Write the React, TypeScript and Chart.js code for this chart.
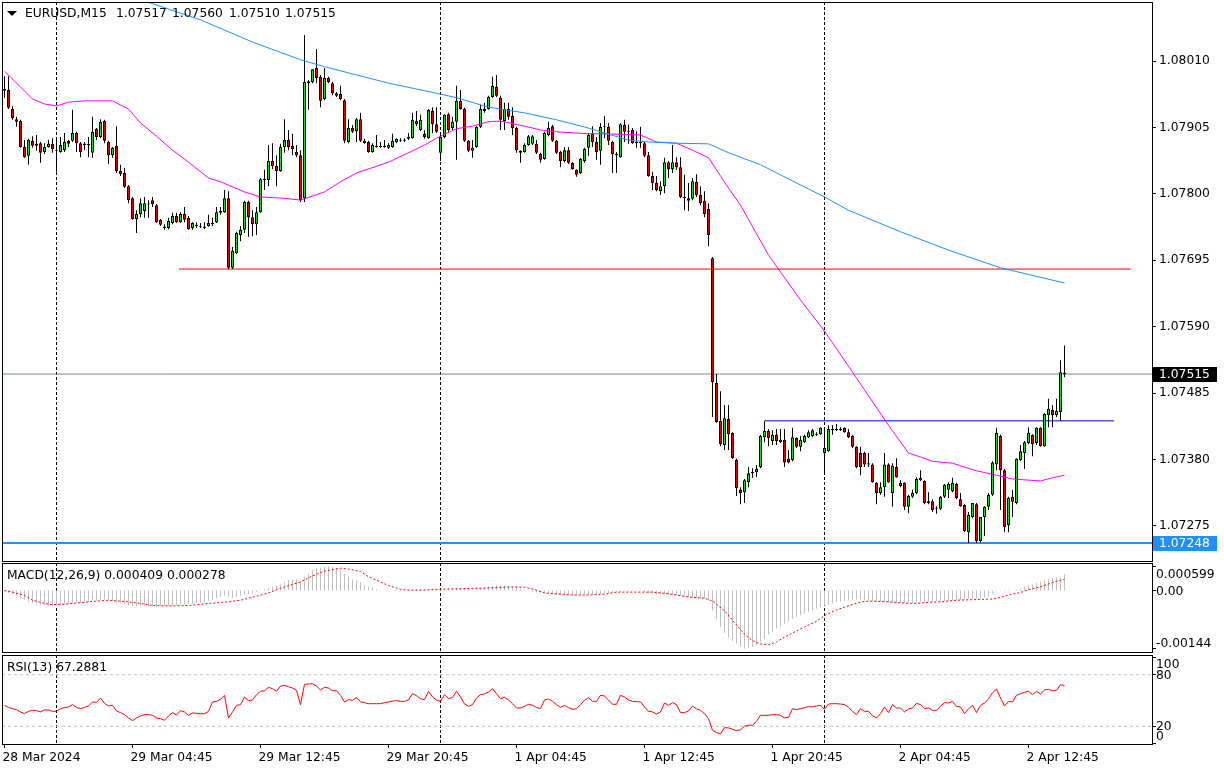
import React, { useEffect, useRef } from 'react';
import { Chart, registerables } from 'chart.js';

Chart.register(...registerables);

// ---------------- DATA ----------------
const symbolText = 'EURUSD,M15';

const opens = [
  1.07963,1.07964,1.07934,1.07918,1.07915,1.07874,1.07860,1.07884,1.07876,1.07880,
  1.07866,1.07874,1.07879,1.07869,1.07866,1.07869,1.07884,1.07884,1.07896,1.07880,
  1.07879,1.07877,1.07865,1.07903,1.07890,1.07915,1.07882,1.07861,1.07876,1.07836,
  1.07833,1.07812,1.07793,1.07760,1.07768,1.07773,1.07784,1.07790,1.07782,1.07759,
  1.07748,1.07746,1.07754,1.07765,1.07755,1.07768,1.07762,1.07746,1.07751,1.07749,
  1.07748,1.07749,1.07752,1.07755,1.07770,1.07771,1.07793,1.07683,1.07706,1.07735,
  1.07743,1.07787,1.07763,1.07752,1.07771,1.07823,1.07822,1.07852,1.07844,1.07836,
  1.07874,1.07885,1.07876,1.07866,1.07861,1.07793,1.07975,1.07977,1.07999,1.07985,
  1.07950,1.07983,1.07975,1.07959,1.07958,1.07948,1.07882,1.07904,1.07899,1.07918,
  1.07880,1.07882,1.07866,1.07876,1.07874,1.07876,1.07873,1.07874,1.07882,1.07885,
  1.07884,1.07887,1.07888,1.07915,1.07901,1.07895,1.07888,1.07931,1.07910,1.07865,
  1.07890,1.07926,1.07904,1.07914,1.07947,1.07934,1.07884,1.07868,1.07874,1.07906,
  1.07931,1.07934,1.07953,1.07969,1.07952,1.07915,1.07934,1.07923,1.07904,1.07868,
  1.07866,1.07877,1.07879,1.07879,1.07863,1.07855,1.07893,1.07907,1.07884,1.07866,
  1.07852,1.07869,1.07849,1.07838,1.07833,1.07852,1.07873,1.07895,1.07882,1.07868,
  1.07906,1.07906,1.07882,1.07863,1.07858,1.07909,1.07899,1.07901,1.07882,1.07880,
  1.07880,1.07861,1.07828,1.07817,1.07804,1.07812,1.07850,1.07839,1.07850,1.07842,
  1.07795,1.07793,1.07792,1.07819,1.07798,1.07789,1.07776,1.07698,1.07501,1.07441,
  1.07403,1.07444,1.07422,1.07379,1.07332,1.07328,1.07344,1.07358,1.07360,1.07368,
  1.07415,1.07425,1.07409,1.07419,1.07407,1.07411,1.07381,1.07379,1.07414,1.07400,
  1.07407,1.07415,1.07417,1.07420,1.07420,1.07390,1.07393,1.07426,1.07428,1.07426,
  1.07430,1.07423,1.07417,1.07400,1.07390,1.07390,1.07374,1.07372,1.07343,1.07327,
  1.07336,1.07372,1.07327,1.07368,1.07338,1.07343,1.07305,1.07321,1.07327,1.07347,
  1.07346,1.07311,1.07314,1.07302,1.07302,1.07321,1.07332,1.07330,1.07341,1.07317,
  1.07308,1.07265,1.07289,1.07309,1.07251,1.07289,1.07305,1.07324,1.07372,1.07417,
  1.07363,1.07276,1.07321,1.07311,1.07379,1.07390,1.07406,1.07419,1.07406,1.07430,
  1.07401,1.07450,1.07458,1.07450,1.07455,1.07517
];

const highs = [
  1.07986,1.07986,1.07939,1.07922,1.07917,1.07885,1.07887,1.07891,1.07893,1.07882,
  1.07880,1.07885,1.07888,1.07890,1.07890,1.07896,1.07885,1.07933,1.07898,1.07882,
  1.07882,1.07890,1.07922,1.07904,1.07918,1.07917,1.07884,1.07874,1.07907,1.07846,
  1.07841,1.07814,1.07795,1.07774,1.07793,1.07795,1.07790,1.07795,1.07784,1.07760,
  1.07752,1.07762,1.07770,1.07770,1.07771,1.07779,1.07765,1.07755,1.07755,1.07754,
  1.07755,1.07767,1.07762,1.07779,1.07779,1.07806,1.07804,1.07716,1.07740,1.07749,
  1.07789,1.07789,1.07774,1.07779,1.07825,1.07838,1.07877,1.07880,1.07861,1.07879,
  1.07918,1.07901,1.07895,1.07877,1.07869,1.08051,1.07980,1.07997,1.08029,1.07988,
  1.07999,1.07985,1.07977,1.07961,1.07971,1.07950,1.07918,1.07909,1.07920,1.07928,
  1.07887,1.07884,1.07880,1.07893,1.07882,1.07885,1.07880,1.07895,1.07888,1.07888,
  1.07888,1.07896,1.07928,1.07931,1.07925,1.07901,1.07934,1.07937,1.07937,1.07896,
  1.07926,1.07928,1.07922,1.07971,1.07964,1.07936,1.07885,1.07885,1.07907,1.07941,
  1.07944,1.07955,1.07985,1.07988,1.07955,1.07944,1.07944,1.07937,1.07906,1.07869,
  1.07880,1.07893,1.07893,1.07885,1.07865,1.07898,1.07914,1.07909,1.07885,1.07868,
  1.07874,1.07874,1.07850,1.07839,1.07857,1.07873,1.07896,1.07907,1.07890,1.07912,
  1.07923,1.07912,1.07884,1.07866,1.07912,1.07917,1.07910,1.07904,1.07899,1.07906,
  1.07882,1.07866,1.07835,1.07828,1.07820,1.07857,1.07852,1.07877,1.07858,1.07858,
  1.07830,1.07817,1.07825,1.07831,1.07812,1.07804,1.07785,1.07700,1.07515,1.07488,
  1.07466,1.07466,1.07423,1.07381,1.07336,1.07349,1.07368,1.07366,1.07371,1.07419,
  1.07441,1.07428,1.07426,1.07428,1.07428,1.07428,1.07395,1.07430,1.07415,1.07417,
  1.07419,1.07426,1.07428,1.07423,1.07431,1.07430,1.07434,1.07434,1.07436,1.07431,
  1.07431,1.07428,1.07419,1.07401,1.07400,1.07392,1.07390,1.07374,1.07344,1.07344,
  1.07390,1.07374,1.07374,1.07382,1.07347,1.07344,1.07324,1.07332,1.07352,1.07363,
  1.07347,1.07328,1.07317,1.07306,1.07322,1.07341,1.07344,1.07351,1.07343,1.07327,
  1.07309,1.07297,1.07311,1.07311,1.07289,1.07306,1.07327,1.07377,1.07430,1.07419,
  1.07365,1.07321,1.07332,1.07382,1.07403,1.07409,1.07431,1.07420,1.07431,1.07431,
  1.07453,1.07476,1.07466,1.07476,1.07537,1.07560
];

const lows = [
  1.07952,1.07934,1.07917,1.07906,1.07873,1.07857,1.07846,1.07873,1.07868,1.07849,
  1.07863,1.07873,1.07865,1.07835,1.07865,1.07866,1.07874,1.07882,1.07866,1.07858,
  1.07869,1.07858,1.07857,1.07885,1.07888,1.07880,1.07847,1.07857,1.07833,1.07828,
  1.07809,1.07785,1.07759,1.07738,1.07763,1.07762,1.07762,1.07779,1.07754,1.07749,
  1.07743,1.07744,1.07752,1.07754,1.07754,1.07755,1.07743,1.07743,1.07746,1.07746,
  1.07744,1.07748,1.07749,1.07754,1.07767,1.07770,1.07681,1.07681,1.07705,1.07725,
  1.07738,1.07732,1.07733,1.07735,1.07770,1.07806,1.07812,1.07839,1.07812,1.07835,
  1.07865,1.07869,1.07861,1.07858,1.07787,1.07787,1.07933,1.07975,1.07975,1.07937,
  1.07948,1.07975,1.07956,1.07953,1.07948,1.07880,1.07880,1.07896,1.07882,1.07882,
  1.07879,1.07865,1.07865,1.07873,1.07873,1.07873,1.07871,1.07873,1.07880,1.07882,
  1.07882,1.07885,1.07887,1.07907,1.07899,1.07887,1.07887,1.07896,1.07896,1.07852,
  1.07888,1.07898,1.07901,1.07854,1.07933,1.07882,1.07866,1.07857,1.07873,1.07904,
  1.07928,1.07933,1.07952,1.07953,1.07901,1.07901,1.07917,1.07893,1.07865,1.07849,
  1.07865,1.07876,1.07877,1.07863,1.07849,1.07854,1.07891,1.07882,1.07863,1.07842,
  1.07850,1.07847,1.07838,1.07827,1.07831,1.07849,1.07860,1.07874,1.07854,1.07846,
  1.07888,1.07877,1.07833,1.07833,1.07857,1.07882,1.07879,1.07879,1.07873,1.07873,
  1.07858,1.07827,1.07806,1.07804,1.07798,1.07801,1.07825,1.07833,1.07838,1.07793,
  1.07774,1.07773,1.07790,1.07795,1.07782,1.07763,1.07717,1.07447,1.07438,1.07401,
  1.07395,1.07395,1.07381,1.07322,1.07309,1.07311,1.07336,1.07351,1.07352,1.07366,
  1.07407,1.07401,1.07403,1.07403,1.07406,1.07368,1.07374,1.07377,1.07398,1.07393,
  1.07406,1.07414,1.07415,1.07417,1.07419,1.07358,1.07392,1.07419,1.07425,1.07425,
  1.07422,1.07414,1.07398,1.07366,1.07355,1.07368,1.07368,1.07343,1.07309,1.07324,
  1.07321,1.07343,1.07305,1.07351,1.07336,1.07300,1.07295,1.07319,1.07325,1.07346,
  1.07309,1.07309,1.07297,1.07294,1.07300,1.07319,1.07319,1.07328,1.07317,1.07305,
  1.07265,1.07248,1.07287,1.07248,1.07249,1.07259,1.07300,1.07322,1.07363,1.07300,
  1.07265,1.07265,1.07289,1.07309,1.07377,1.07365,1.07404,1.07385,1.07403,1.07400,
  1.07400,1.07431,1.07431,1.07447,1.07441,1.07510
];

const closes = [
  1.07966,1.07936,1.07920,1.07914,1.07874,1.07858,1.07885,1.07876,1.07879,1.07865,
  1.07874,1.07879,1.07871,1.07868,1.07877,1.07882,1.07879,1.07896,1.07880,1.07866,
  1.07877,1.07879,1.07898,1.07890,1.07914,1.07884,1.07861,1.07873,1.07836,1.07831,
  1.07811,1.07790,1.07760,1.07768,1.07785,1.07785,1.07783,1.07784,1.07755,1.07751,
  1.07746,1.07757,1.07765,1.07755,1.07768,1.07759,1.07744,1.07754,1.07749,1.07748,
  1.07746,1.07754,1.07754,1.07771,1.07773,1.07793,1.07683,1.07710,1.07738,1.07743,
  1.07787,1.07763,1.07752,1.07771,1.07823,1.07822,1.07852,1.07844,1.07836,1.07874,
  1.07885,1.07874,1.07871,1.07861,1.07790,1.07977,1.07978,1.07997,1.07983,1.07947,
  1.07983,1.07977,1.07959,1.07955,1.07950,1.07884,1.07904,1.07898,1.07918,1.07884,
  1.07884,1.07866,1.07877,1.07874,1.07876,1.07874,1.07877,1.07884,1.07887,1.07884,
  1.07885,1.07890,1.07917,1.07910,1.07917,1.07890,1.07933,1.07910,1.07898,1.07890,
  1.07925,1.07901,1.07914,1.07947,1.07934,1.07884,1.07868,1.07873,1.07906,1.07934,
  1.07934,1.07953,1.07971,1.07955,1.07917,1.07934,1.07922,1.07904,1.07869,1.07865,
  1.07877,1.07891,1.07891,1.07865,1.07854,1.07896,1.07904,1.07884,1.07865,1.07852,
  1.07869,1.07849,1.07839,1.07830,1.07855,1.07871,1.07893,1.07882,1.07866,1.07906,
  1.07907,1.07884,1.07863,1.07861,1.07910,1.07898,1.07898,1.07880,1.07880,1.07882,
  1.07860,1.07828,1.07817,1.07806,1.07812,1.07850,1.07839,1.07850,1.07842,1.07795,
  1.07793,1.07789,1.07820,1.07798,1.07785,1.07768,1.07735,1.07502,1.07439,1.07404,
  1.07445,1.07420,1.07382,1.07335,1.07327,1.07347,1.07358,1.07360,1.07365,1.07417,
  1.07425,1.07414,1.07419,1.07409,1.07411,1.07375,1.07375,1.07415,1.07400,1.07411,
  1.07417,1.07423,1.07426,1.07419,1.07430,1.07398,1.07428,1.07428,1.07426,1.07428,
  1.07423,1.07415,1.07400,1.07368,1.07368,1.07372,1.07372,1.07344,1.07327,1.07336,
  1.07372,1.07344,1.07370,1.07352,1.07343,1.07305,1.07322,1.07327,1.07349,1.07351,
  1.07311,1.07314,1.07300,1.07303,1.07321,1.07340,1.07341,1.07343,1.07319,1.07306,
  1.07267,1.07292,1.07311,1.07251,1.07289,1.07305,1.07324,1.07375,1.07422,1.07363,
  1.07273,1.07319,1.07313,1.07381,1.07393,1.07407,1.07422,1.07404,1.07430,1.07401,
  1.07452,1.07460,1.07450,1.07457,1.07518,1.07515
];

// moving averages: [bar index, price]
const maSlow = [
  [35,1.08105],[49,1.08075],[62,1.08040],[74,1.08012],[80,1.08001],[88,1.07988],[96,1.07975],
  [108,1.07959],[113,1.07952],[121,1.07937],[130,1.07928],[138,1.07917],[146,1.07904],[149,1.07898],
  [156,1.07885],[161,1.07882],[168,1.07880],[176,1.07879],[181,1.07865],[189,1.07846],[199,1.07814],
  [205,1.07795],[211,1.07774],[224,1.07740],[236,1.07711],[249,1.07683],[265,1.07659]
];
const maFast = [
  [0,1.07994],[7,1.07950],[10,1.07942],[13,1.07939],[16,1.07945],[20,1.07947],[27,1.07947],
  [31,1.07934],[34,1.07912],[38,1.07891],[42,1.07869],[46,1.07850],[51,1.07825],[54,1.07819],
  [60,1.07803],[64,1.07795],[70,1.07793],[74,1.07790],[80,1.07803],[84,1.07819],[88,1.07833],
  [96,1.07850],[105,1.07877],[108,1.07888],[113,1.07903],[117,1.07907],[121,1.07914],[124,1.07915],
  [130,1.07907],[134,1.07901],[138,1.07898],[146,1.07895],[149,1.07895],[159,1.07893],[163,1.07882],
  [168,1.07880],[172,1.07869],[176,1.07857],[181,1.07809],[184,1.07782],[191,1.07703],[199,1.07632],
  [205,1.07583],[212,1.07518],[221,1.07434],[226,1.07390],[229,1.07384],[232,1.07377],[237,1.07374],
  [243,1.07362],[248,1.07355],[252,1.07349],[259,1.07346],[262,1.07351],[265,1.07355]
];

// horizontal objects: [fromIndex, toIndex, price]
const supportLine = [43.6, 281.6, 1.07681];
const necklineLine = [190.1, 277.4, 1.07441];
const lowLevel = 1.07248;

// MACD(12,26,9) main histogram, in units of 0.00001
const macdMain = [
  -5,-7,-10,-13,-18,-23,-28,-31,-34,-35,
  -37,-38,-38,-38,-37,-35,-35,-32,-31,-31,
  -30,-28,-25,-25,-23,-23,-25,-26,-30,-32,
  -34,-37,-38,-39,-38,-38,-39,-40,-40,-39,
  -39,-38,-37,-37,-35,-35,-34,-33,-31,-30,
  -28,-25,-23,-20,-16,-13,-16,-18,-16,-13,
  -10,-9,-7,-4,-1,3,6,9,12,15,
  21,26,27,27,23,34,41,51,55,56,
  58,59.9,58,55,51,41,34,28,25,21,
  14,10,7,3,1,0,-1,0,1,1,
  1,1,2,2,2,2,3,3,3,2,
  3,4,5,6,6,5,4,2,3,6,
  8,10,12,13,13,13,12,10,8,5,
  2,0,-3,-5,-7,-8,-9,-10,-11,-11,
  -12,-12,-12,-12,-12,-12,-11,-10,-9,-8,
  -7,-6,-6,-5,-3,-2,-2,-1,-1,-2,
  -4,-6,-8,-9,-10,-10,-11,-12,-13,-14,
  -15,-17,-18,-19,-20,-21,-24,-49,-70,-90,
  -105,-115,-125,-131,-139,-144,-142,-139,-134,-127,
  -119,-109,-102,-94,-88,-82,-76,-70,-65,-61,
  -57,-53,-49,-45,-41,-37,-35,-32,-28,-27,
  -25,-23,-22,-22,-23,-24,-25,-26,-27,-28,
  -29,-30,-30,-31,-31,-31,-30,-30,-29,-28,
  -28,-28,-27,-27,-27,-26,-26,-25,-24,-23,
  -22,-21,-20,-20,-19,-18,-15,-8,-2,-1,
  -2,-1,0,2,4,9,13,15,19,23,
  25,29,31,32,33,40.9
];
// MACD signal line, [bar index, value in 0.00001]
const macdSignal = [
  [0,0],[2,-4],[5,-12],[7,-24],[10,-32],[12,-35],[16,-33],[19,-30],[22,-27],[26,-24],[31,-28],
  [34,-32],[37,-37],[41,-38],[46,-37],[51,-32],[56,-28],[59,-24],[63,-14],[66,-6],[68,2],[71,12],
  [74,21],[77,36],[80,48],[84,55],[86,53],[89,47],[91,34],[94,21],[96,12],[99,3],[101,1],[105,1],
  [108,3],[112,4],[120,6],[127,9],[130,8],[133,1],[135,-6],[139,-9],[142,-11],[146,-11],[150,-9],
  [153,-4],[162,-4],[166,-8],[171,-16],[175,-19],[177,-26],[180,-50],[183,-85],[185,-108],[187,-124],
  [189,-132],[191,-134],[193,-127],[195,-115],[198,-100],[200,-90],[203,-76],[205,-62],[208,-48],
  [210,-41],[213,-31],[215,-27],[217,-26],[221,-28],[225,-31],[228,-32],[231,-29],[234,-28],
  [238,-24],[241,-23],[244,-22],[247,-21],[249,-17],[251,-11],[254,-5],[256,2],[259,9],[261,16],
  [263,23],[265,27.8]
];

// RSI(13)
const rsi = [
  44.4,42,40.5,39.4,36.7,34.7,37.4,38.6,38.2,36.7,
  39,39,37.4,37.4,40.5,41.7,42.5,45.2,42,40.5,
  42,43.6,48.3,47.9,52.9,46.7,43.6,44.4,37.8,35.9,
  33.6,29.7,26.6,29.7,32,33.6,33.6,32.8,29.7,28.9,
  27,32,35.9,33.2,38.2,36.7,32.8,35.5,35.1,34.7,
  34.7,37.4,48.3,49,51.4,56,29.7,36.7,44.4,45.2,
  54.1,49.8,50.6,56.8,60.7,61.4,65.3,63.7,60.7,66.8,
  67.6,66,64.5,61.8,45.2,68.8,69.2,69.6,66.8,62.2,
  65.3,64.5,61.4,61.4,56,48.3,51,50.2,53.3,48.3,
  47.5,46.3,46.3,46.3,46.3,47.5,48.3,49.4,49.8,49,
  49,50.6,57.9,55.6,52.1,51,60.7,54.1,50.6,49,
  56.8,52.1,53.7,60.7,54.1,45.9,43.2,45.2,52.9,56.8,
  57.6,59.9,63.7,57.9,52.1,53.7,50.6,46.3,41.3,41.3,
  43.2,45.6,44.4,42,40.5,50.6,51.7,49,45.2,42,
  44.4,41.7,39.7,40.5,45.2,50.2,53.3,49,49,56,
  55.2,50.6,45.6,45.6,56,54.1,50.6,49,48.7,48.3,
  42.5,37.4,36.7,34.3,36.7,47.1,44.4,47.5,45.2,35.9,
  35.9,37.8,43.6,40.1,38.6,34.7,28.9,15.4,12.7,11.1,
  18.5,18.1,16.5,15,15.8,20,21.2,21.2,25.8,32.8,
  32.8,32.8,33.6,33.6,32.8,29.7,30.5,40.5,39.4,40.5,
  41.7,42.9,42.5,43.6,44.4,39.7,45.9,46.3,46.3,45.9,
  45.2,42,37.4,33.6,40.5,37.4,37.4,32.4,29.7,34.7,
  42.5,35.9,45.2,41.3,41.3,36.7,40.1,41.3,46.7,45.2,
  40.5,41.3,38.6,38.6,43.2,47.5,47.1,49,43.2,42.5,
  34.7,40.5,44.4,35.9,44.4,47.1,51.7,59.1,63.4,52.9,
  43.6,49,48.3,56,57.9,59.5,60.7,56.8,60.7,57.6,
  62.2,63,61.4,61.8,68.4,67.2881
];
const rsiLevels = [80, 20];

const priceTicks = [1.08010, 1.07905, 1.07800, 1.07695, 1.07590, 1.07485, 1.07380, 1.07275];
const timeLabels = ['28 Mar 2024', '29 Mar 04:45', '29 Mar 12:45', '29 Mar 20:45', '1 Apr 04:45', '1 Apr 12:45', '1 Apr 20:45', '2 Apr 04:45', '2 Apr 12:45'];
const timeLabelIdx = [0, 32, 64, 96, 128, 160, 192, 224, 256];
const daySeparators = [13, 109, 205];

// ---------------- STYLE / LAYOUT ----------------
const X_MIN = -0.625;
const X_MAX = 286.875;
const FONT = "'DejaVu Sans', sans-serif";
const FS = 12.3;
const BULL = '#32cd32';
const BEAR = '#e00000';

function drawBorder(chart: any) {
  const { ctx, chartArea: a } = chart;
  ctx.save();
  ctx.strokeStyle = '#000';
  ctx.lineWidth = 1;
  ctx.setLineDash([]);
  ctx.strokeRect(a.left + 0.5, a.top + 0.5, a.right - a.left, a.bottom - a.top);
  ctx.restore();
}

function drawSeparators(chart: any) {
  const { ctx, chartArea: a, scales } = chart;
  ctx.save();
  ctx.strokeStyle = '#000';
  ctx.lineWidth = 1;
  ctx.setLineDash([3, 2]);
  daySeparators.forEach((i) => {
    const px = Math.floor(scales.x.getPixelForValue(i)) + 0.5;
    ctx.beginPath();
    ctx.moveTo(px, a.top);
    ctx.lineTo(px, a.bottom);
    ctx.stroke();
  });
  ctx.restore();
}

function drawSideLabels(chart: any, items: Array<[number, string, number]>) {
  const { ctx, chartArea: a, scales } = chart;
  ctx.save();
  ctx.font = `${FS}px ${FONT}`;
  ctx.fillStyle = '#000';
  ctx.strokeStyle = '#000';
  ctx.lineWidth = 1;
  ctx.textBaseline = 'middle';
  ctx.textAlign = 'left';
  items.forEach(([v, text, dy]) => {
    const py = scales.y.getPixelForValue(v);
    const ty = Math.floor(py) + 0.5;
    ctx.beginPath();
    ctx.moveTo(a.right + 1, ty);
    ctx.lineTo(a.right + 4, ty);
    ctx.stroke();
    ctx.fillText(text, a.right + 4, py + dy);
  });
  ctx.restore();
}

const xScaleHidden = {
  type: 'linear',
  min: X_MIN,
  max: X_MAX,
  offset: false,
  display: false,
};

const commonOpts = {
  responsive: false,
  maintainAspectRatio: false,
  animation: false,
  devicePixelRatio: 1,
  events: [],
  plugins: { legend: { display: false }, tooltip: { enabled: false } },
};

export default function App() {
  const mainRef = useRef<HTMLCanvasElement>(null);
  const macdRef = useRef<HTMLCanvasElement>(null);
  const rsiRef = useRef<HTMLCanvasElement>(null);

  useEffect(() => {
    Chart.defaults.font.family = FONT;
    Chart.defaults.font.size = FS;
    Chart.defaults.color = '#000';

    const n = opens.length;
    const idx = Array.from({ length: n }, (_, i) => i);
    const wickData = idx.map((i) => ({ x: i, y: [lows[i], highs[i]] }));
    const bodyData = idx.map((i) => ({ x: i, y: [Math.min(opens[i], closes[i]), Math.max(opens[i], closes[i])] }));
    const bodyColors = idx.map((i) => (closes[i] >= opens[i] ? BULL : BEAR));
    const last = n - 1;
    const lastClose = closes[last];

    const hLine = (x0: number, x1: number, y: number, color: string, width: number, order: number) => ({
      type: 'line',
      data: [{ x: x0, y }, { x: x1, y }],
      borderColor: color,
      borderWidth: width,
      pointRadius: 0,
      order,
    });

    const mainChart = new Chart(mainRef.current as HTMLCanvasElement, {
      type: 'bar',
      data: {
        datasets: [
          hLine(X_MIN, X_MAX, lastClose, '#778899', 1, 9),
          hLine(X_MIN, X_MAX, lowLevel, '#1e90ff', 2, 9),
          hLine(supportLine[0], supportLine[1], supportLine[2], '#ff0000', 1, 9),
          hLine(necklineLine[0], necklineLine[1], necklineLine[2], '#0000cd', 1, 9),
          {
            type: 'bar',
            data: wickData,
            backgroundColor: '#000',
            barThickness: 1,
            grouped: false,
            minBarLength: 1,
            inflateAmount: 0,
            order: 6,
          },
          {
            type: 'bar',
            data: bodyData,
            backgroundColor: bodyColors,
            borderColor: '#000',
            borderWidth: 1,
            borderSkipped: false,
            barThickness: 3,
            grouped: false,
            minBarLength: 1,
            inflateAmount: 0,
            order: 5,
          },
          {
            type: 'line',
            data: maSlow.map(([x, y]) => ({ x, y })),
            borderColor: '#1e90ff',
            borderWidth: 1,
            pointRadius: 0,
            order: 1,
          },
          {
            type: 'line',
            data: maFast.map(([x, y]) => ({ x, y })),
            borderColor: '#ff00ff',
            borderWidth: 1,
            pointRadius: 0,
            order: 1,
          },
        ],
      },
      options: {
        ...commonOpts,
        layout: { padding: { left: 2, top: 2, right: 0, bottom: 2 } },
        scales: {
          x: xScaleHidden,
          y: {
            type: 'linear',
            position: 'right',
            min: 1.072194,
            max: 1.081033,
            bounds: 'data',
            afterBuildTicks: (s: any) => {
              s.ticks = priceTicks.map((v) => ({ value: v }));
            },
            afterFit: (s: any) => {
              s.width = 72;
              s.paddingTop = 0;
              s.paddingBottom = 0;
            },
            ticks: {
              autoSkip: false,
              padding: 3,
              color: '#000',
              font: { size: FS, family: FONT },
              callback: (v: any) => Number(v).toFixed(5),
            },
            grid: { drawOnChartArea: false, drawTicks: true, tickLength: 4, color: '#000' },
            border: { display: false },
          },
        },
      },
      plugins: [
        {
          id: 'mainDeco',
          beforeDatasetsDraw: (chart: any) => drawSeparators(chart),
          afterDraw: (chart: any) => {
            drawBorder(chart);
            const { ctx, scales, chartArea: a } = chart;
            ctx.save();
            ctx.font = `${FS}px ${FONT}`;
            ctx.textBaseline = 'middle';
            ctx.textAlign = 'left';
            ctx.fillStyle = '#000';
            ctx.beginPath();
            ctx.moveTo(7, 11);
            ctx.lineTo(17, 11);
            ctx.lineTo(12, 16);
            ctx.closePath();
            ctx.fill();
            ctx.fillText(symbolText, 25, 14);
            const vals = [opens[last], highs[last], lows[last], closes[last]].map((v) => v.toFixed(5));
            const xs = [116, 172, 229, 285];
            vals.forEach((t, k) => ctx.fillText(t, xs[k], 14));
            // price tags on the axis
            const tag = (v: number, bg: string) => {
              const py = scales.y.getPixelForValue(v);
              const top = Math.round(py) - 7;
              ctx.fillStyle = bg;
              ctx.fillRect(a.right + 1, top, 64, 15);
              ctx.fillStyle = '#fff';
              ctx.fillText(v.toFixed(5), a.right + 7, top + 7.5);
            };
            tag(lastClose, '#000');
            tag(lowLevel, '#1e90ff');
            ctx.restore();
          },
        },
      ],
    } as any);

    const macdChart = new Chart(macdRef.current as HTMLCanvasElement, {
      type: 'bar',
      data: {
        datasets: [
          {
            type: 'bar',
            data: macdMain.map((v, i) => ({ x: i, y: v * 1e-5 })),
            backgroundColor: '#c0c0c0',
            barThickness: 1,
            grouped: false,
            inflateAmount: 0,
            order: 3,
          },
          {
            type: 'line',
            data: macdSignal.map(([x, v]) => ({ x, y: v * 1e-5 })),
            borderColor: '#ff0000',
            borderWidth: 1,
            borderDash: [2, 2],
            pointRadius: 0,
            order: 1,
          },
        ],
      },
      options: {
        ...commonOpts,
        layout: { padding: { left: 2, top: 1, right: 72, bottom: 2 } },
        scales: {
          x: xScaleHidden,
          y: { type: 'linear', min: -0.0015185, max: 0.000679, display: false },
        },
      },
      plugins: [
        {
          id: 'macdDeco',
          beforeDatasetsDraw: (chart: any) => drawSeparators(chart),
          afterDraw: (chart: any) => {
            drawBorder(chart);
            const { ctx } = chart;
            ctx.save();
            ctx.font = `${FS}px ${FONT}`;
            ctx.textBaseline = 'middle';
            ctx.fillStyle = '#000';
            ctx.fillText('MACD(12,26,9) ' + (macdMain[last] * 1e-5).toFixed(6) + ' ' + (macdSignal[macdSignal.length - 1][1] * 1e-5).toFixed(6), 7, 14);
            ctx.restore();
            drawSideLabels(chart, [
              [0.000599, '0.000599', 9],
              [0, '0.00', 1],
              [-0.00144, '-0.00144', -5],
            ]);
          },
        },
      ],
    } as any);

    const rsiChart = new Chart(rsiRef.current as HTMLCanvasElement, {
      type: 'line',
      data: {
        datasets: [
          ...rsiLevels.map((lv) => ({
            type: 'line',
            data: [{ x: X_MIN, y: lv }, { x: X_MAX, y: lv }],
            borderColor: '#c0c0c0',
            borderWidth: 1,
            borderDash: [3, 3],
            pointRadius: 0,
            order: 3,
          })),
          {
            type: 'line',
            data: rsi.map((v, i) => ({ x: i, y: v })),
            borderColor: '#ff0000',
            borderWidth: 1,
            pointRadius: 0,
            order: 1,
          },
        ],
      },
      options: {
        ...commonOpts,
        layout: { padding: { left: 2, top: 1, right: 72, bottom: 0 } },
        scales: {
          x: {
            type: 'linear',
            min: X_MIN,
            max: X_MAX,
            offset: false,
            afterBuildTicks: (s: any) => {
              s.ticks = timeLabelIdx.map((v) => ({ value: v }));
            },
            afterFit: (s: any) => {
              s.height = 27;
              s.paddingLeft = 0;
              s.paddingRight = 0;
            },
            ticks: {
              autoSkip: false,
              maxRotation: 0,
              minRotation: 0,
              align: 'start',
              labelOffset: -2,
              padding: 2,
              color: '#000',
              font: { size: FS, family: FONT },
              callback: (v: any) => timeLabels[timeLabelIdx.indexOf(Number(v))] ?? '',
            },
            grid: { drawOnChartArea: false, drawTicks: true, tickLength: 4, color: '#000' },
            border: { display: false },
          },
          y: { type: 'linear', min: -0.581, max: 102.907, display: false },
        },
      },
      plugins: [
        {
          id: 'rsiDeco',
          beforeDatasetsDraw: (chart: any) => drawSeparators(chart),
          afterDraw: (chart: any) => {
            drawBorder(chart);
            const { ctx } = chart;
            ctx.save();
            ctx.font = `${FS}px ${FONT}`;
            ctx.textBaseline = 'middle';
            ctx.fillStyle = '#000';
            ctx.fillText('RSI(13) ' + rsi[last].toFixed(4), 7, 14);
            ctx.restore();
            drawSideLabels(chart, [
              [100, '100', 7.5],
              [80, '80', 1],
              [20, '20', 1],
              [0, '0', -6.5],
            ]);
          },
        },
      ],
    } as any);

    return () => {
      mainChart.destroy();
      macdChart.destroy();
      rsiChart.destroy();
    };
  }, []);

  return (
    <div style={{ position: 'absolute', left: 0, top: 0, width: 1224, height: 771, background: '#fff', overflow: 'hidden' }}>
      <canvas ref={mainRef} width={1224} height={563} style={{ position: 'absolute', left: 0, top: 0, width: 1224, height: 563 }} />
      <canvas ref={macdRef} width={1224} height={92} style={{ position: 'absolute', left: 0, top: 562, width: 1224, height: 92 }} />
      <canvas ref={rsiRef} width={1224} height={117} style={{ position: 'absolute', left: 0, top: 654, width: 1224, height: 117 }} />
    </div>
  );
}
